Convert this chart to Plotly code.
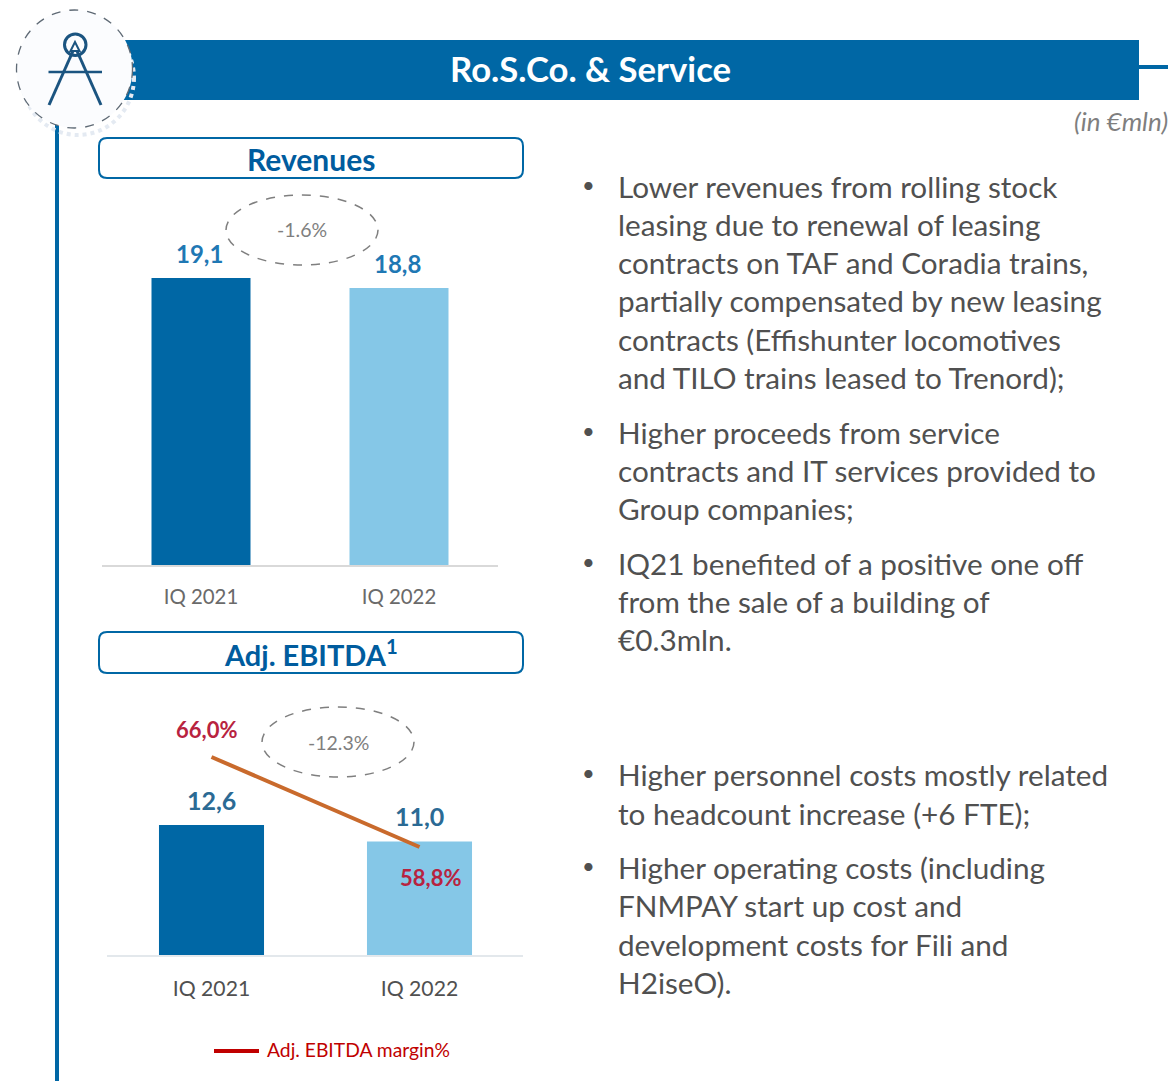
import plotly.graph_objects as go

W, H = 1168, 1081
FONT = "Lato"
BLUE = "#0067A5"
LIGHT = "#85C7E7"
NAVY = "#005C9E"
GREY = "#7F7F7F"
TEXT = "#505050"
RED = "#C00000"
ICON = "#1B5480"

categories = ["IQ 2021", "IQ 2022"]
revenues = [19.1, 18.8]
revenue_labels = ["19,1", "18,8"]
ebitda = [12.6, 11.0]
ebitda_labels = ["12,6", "11,0"]
margin_pct = [66.0, 58.8]
margin_labels = ["66,0%", "58,8%"]
bar_colors = [BLUE, LIGHT]

body_lines = [
    ("Lower revenues from rolling stock", 186, True),
    ("leasing due to renewal of leasing", 224.5, False),
    ("contracts on TAF and Coradia trains,", 262.5, False),
    ("partially compensated by new leasing", 300.5, False),
    ("contracts (Effishunter locomotives", 339.5, False),
    ("and TILO trains leased to Trenord);", 377.5, False),
    ("Higher proceeds from service", 432.5, True),
    ("contracts and IT services provided to", 470.5, False),
    ("Group companies;", 508.5, False),
    ("IQ21 benefited of a positive one off", 563.5, True),
    ("from the sale of a building of", 601.5, False),
    ("€0.3mln.", 639.5, False),
    ("Higher personnel costs mostly related", 774.5, True),
    ("to headcount increase (+6 FTE);", 813.5, False),
    ("Higher operating costs (including", 867.5, True),
    ("FNMPAY start up cost and", 905.5, False),
    ("development costs for Fili and", 944.5, False),
    ("H2iseO).", 982.5, False),
]


def px(x):
    return x / W


def py(y):
    return 1 - y / H


def note(text, x, y, size, color, xanchor="center", bold=False, italic=False):
    if bold:
        text = f"<b>{text}</b>"
    if italic:
        text = f"<i>{text}</i>"
    return dict(text=text, x=px(x), y=py(y), xref="paper", yref="paper", xanchor=xanchor, yanchor="middle",
                showarrow=False, font=dict(family=FONT, size=size, color=color), borderpad=0, borderwidth=0)


def round_box(x0, y0, x1, y1, r=8):
    path = (f"M{x0+r},{y0} L{x1-r},{y0} Q{x1},{y0} {x1},{y0+r} L{x1},{y1-r} Q{x1},{y1} {x1-r},{y1} "
            f"L{x0+r},{y1} Q{x0},{y1} {x0},{y1-r} L{x0},{y0+r} Q{x0},{y0} {x0+r},{y0} Z")
    return dict(type="path", path=path, xref="x9", yref="y9", line=dict(color=BLUE, width=2), fillcolor="white")


def rect(x0, y0, x1, y1, color):
    return dict(type="rect", x0=x0, x1=x1, y0=y0, y1=y1, xref="x9", yref="y9", line=dict(width=0), fillcolor=color)


def seg(x0, y0, x1, y1, color, width, dash="solid"):
    return dict(type="line", x0=x0, x1=x1, y0=y0, y1=y1, xref="x9", yref="y9", line=dict(color=color, width=width, dash=dash))


def ell(x0, y0, x1, y1, color="rgba(0,0,0,0)", line=GREY, width=1.5, dash="dash"):
    return dict(type="circle", x0=x0, x1=x1, y0=y0, y1=y1, xref="x9", yref="y9",
                fillcolor=color, line=dict(color=line, width=width, dash=dash))


fig = go.Figure()
fig.add_trace(go.Bar(x=categories, y=revenues, marker=dict(color=bar_colors, line=dict(width=0)),
                     xaxis="x", yaxis="y", width=0.5, showlegend=False, hoverinfo="skip"))
fig.add_trace(go.Bar(x=categories, y=ebitda, marker=dict(color=bar_colors, line=dict(width=0)),
                     xaxis="x2", yaxis="y2", width=0.505, showlegend=False, hoverinfo="skip"))
fig.add_trace(go.Scatter(x=categories, y=margin_pct, mode="lines", line=dict(color="#C96A2C", width=4),
                         xaxis="x2", yaxis="y3", showlegend=False, hoverinfo="skip"))
# hidden pixel axis for page furniture
fig.add_trace(go.Scatter(x=[0, W], y=[0, H], mode="none", xaxis="x9", yaxis="y9", showlegend=False, hoverinfo="skip"))

shapes = [
    rect(120, 40, 1139, 100, BLUE),
    seg(1139, 67, 1168, 67, BLUE, 4),
    seg(57, 124, 57, 1081, BLUE, 4),
    ell(22, 21, 134, 135, line="#E4EAF2", width=4, dash="dot"),
    ell(16.5, 10, 132.5, 128, color="#FBFCFE", line="#5F6A75", width=1.3, dash="dash"),
    ell(64.5, 34, 86, 55.5, line=ICON, width=3, dash="solid"),
    dict(type="path", path="M75,42 L70.5,51 L79.5,51 Z", xref="x9", yref="y9", line=dict(color=ICON, width=2), fillcolor="#FBFCFE"),
    seg(73, 51, 49, 105, ICON, 3),
    seg(77, 51, 101, 105, ICON, 3),
    seg(48.5, 72, 102, 72, ICON, 2.5),
    round_box(99, 138, 523, 178),
    round_box(99, 632, 523, 673),
    ell(226, 195, 378, 265),
    ell(262, 707, 414, 777),
    seg(214, 1051, 259, 1051, RED, 4),
]

anns = [
    note("Ro.S.Co. &amp; Service", 590, 69, 34.7, "white", bold=True),
    note("(in €mln)", 1168, 121, 26, GREY, xanchor="right", italic=True),
    note("Revenues", 311, 158.5, 30, NAVY, bold=True),
    note("Adj. EBITDA<sup>1</sup>", 311, 652.5, 29, NAVY, bold=True),
    note("-1.6%", 302, 230, 19.5, GREY),
    note("-12.3%", 338, 742, 19.5, GREY),
    note("Adj. EBITDA margin%", 267, 1049, 19.3, RED, xanchor="left"),
]

for text, y, bullet in body_lines:
    anns.append(note(text, 618, y, 29.7, TEXT, xanchor="left"))
    if bullet:
        anns.append(note("•", 588, y - 2, 22, TEXT))

for cat, val, lab in zip(categories, revenues, revenue_labels):
    anns.append(dict(x=cat, y=val, text=f"<b>{lab}</b>", xref="x", yref="y", showarrow=False, yanchor="bottom", yshift=8, xshift=-1.5,
                     font=dict(family=FONT, size=24, color="#1F78B4")))
for cat, val, lab in zip(categories, ebitda, ebitda_labels):
    anns.append(dict(x=cat, y=val, text=f"<b>{lab}</b>", xref="x2", yref="y2", showarrow=False, yanchor="bottom", yshift=8,
                     font=dict(family=FONT, size=25, color="#2B6A94")))
for cat, val, lab, dx, dy in zip(categories, margin_pct, margin_labels, [-5, 11], [28, -30]):
    anns.append(dict(x=cat, y=val, text=f"<b>{lab}</b>", xref="x2", yref="y3", showarrow=False, xshift=dx, yshift=dy,
                     font=dict(family=FONT, size=22, color="#B8233F")))

fig.update_layout(
    width=W, height=H, autosize=False,
    margin=dict(l=0, r=0, t=0, b=0), paper_bgcolor="white", plot_bgcolor="rgba(0,0,0,0)",
    font=dict(family=FONT), bargap=0.5, showlegend=False, shapes=shapes, annotations=anns,
    xaxis=dict(domain=[px(102), px(498)], type="category", showgrid=False, zeroline=False, showline=False, ticks="",
               tickfont=dict(family=FONT, size=20.4, color="#6A6A6A"), anchor="y", ticklabelstandoff=17, fixedrange=True),
    yaxis=dict(domain=[py(566), py(190)], range=[10.46, 21.74], visible=False, fixedrange=True),
    xaxis2=dict(domain=[px(107.5), px(523.5)], type="category", showgrid=False, zeroline=False, showline=False, ticks="",
                tickfont=dict(family=FONT, size=21.2, color="#505050"), anchor="y2", ticklabelstandoff=19, fixedrange=True),
    yaxis2=dict(domain=[py(955), py(700)], range=[0, 24.7], visible=False, fixedrange=True),
    yaxis3=dict(overlaying="y2", range=[50.16, 70.56], visible=False, fixedrange=True, anchor="x2"),
    xaxis9=dict(domain=[0, 1], range=[0, W], visible=False, fixedrange=True, anchor="y9"),
    yaxis9=dict(domain=[0, 1], range=[H, 0], visible=False, fixedrange=True, anchor="x9"),
)
# axis baselines
fig.add_shape(seg(102, 566, 498, 566, "#D9D9D9", 2))
fig.add_shape(seg(107, 956, 523, 956, "#E3E8EC", 2))

fig.write_html("out.html", config={"displayModeBar": False},
               post_script="document.body.style.margin='0';document.documentElement.style.overflow='hidden';")
